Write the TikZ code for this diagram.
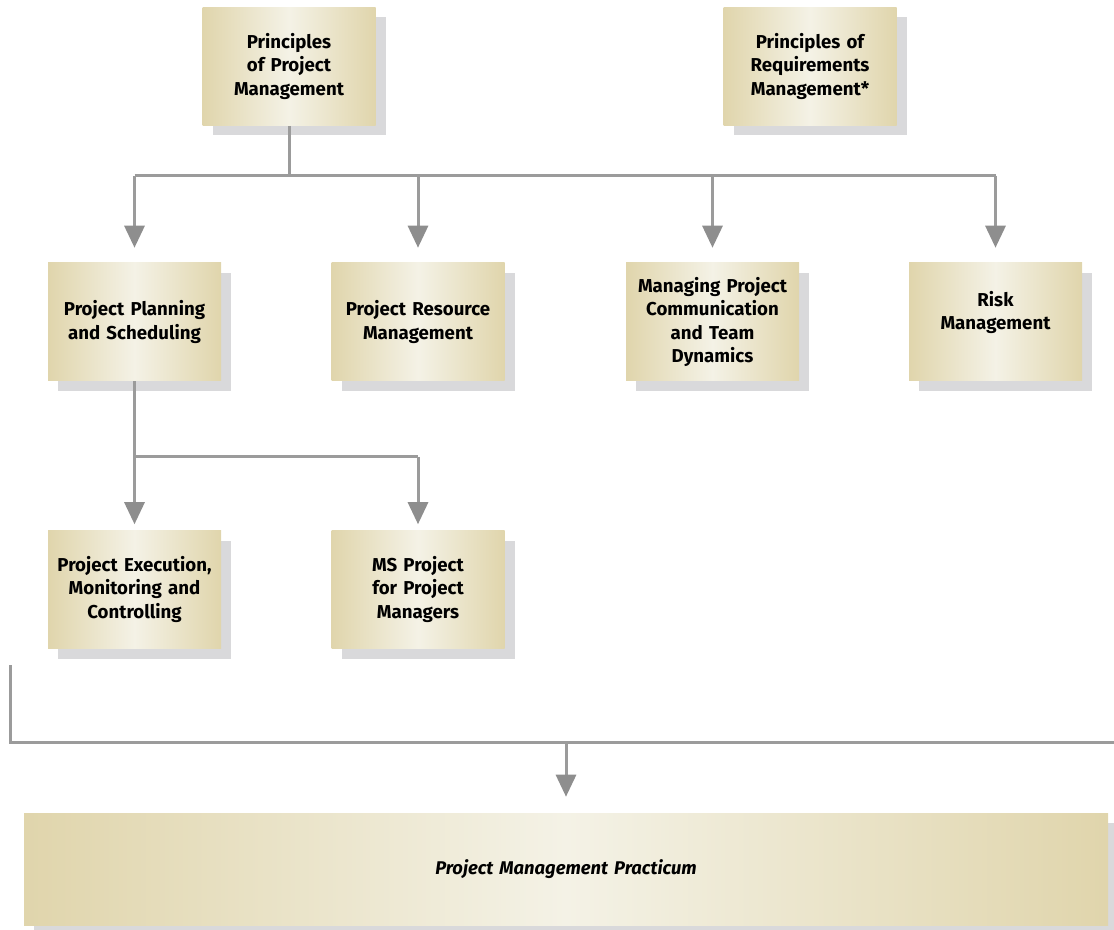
\documentclass[tikz,border=0pt]{standalone}
\usepackage{fontspec}
\setmainfont{Fira Sans}
\usetikzlibrary{arrows.meta,shadows,positioning}

\definecolor{boxtan}{HTML}{E0D5AC}
\definecolor{boxlight}{HTML}{F4F2E6}
\definecolor{shadowgray}{HTML}{D9D9DB}
\definecolor{linegray}{HTML}{9B9B9B}
\definecolor{tipgray}{HTML}{8E8E8E}

\tikzset{
  course/.style={left color=boxtan, right color=boxtan, middle color=boxlight,
    minimum width=129.75pt, minimum height=88.5pt, text width=129pt, align=center,
    inner sep=0pt, font=\bfseries\fontsize{14}{17.5}\selectfont,
    general shadow={fill=shadowgray, shadow xshift=7.5pt, shadow yshift=-7.5pt}},
  link/.style={draw=linegray, line width=2.25pt},
  flow/.style={link, -{Triangle[width=15pt,length=16.5pt,color=tipgray]}}
}

\begin{document}
\begin{tikzpicture}[x=0.75pt,y=-0.75pt]
  \useasboundingbox (0,0) rectangle (1114,930);

  % first courses
  \node[course] (pm)  at (289,66.5) {Principles\\of Project\\Management};
  \node[course] (req) at (810,66.5) {Principles of\\Requirements\\Management*};

  % second row
  \node[course] (plan) at (134.5,322) {Project Planning\\and Scheduling};
  \node[course] (res)  at (418,322)   {Project Resource\\Management};
  \node[course] (comm) at (712.5,322) {Managing Project\\Communication\\and Team\\Dynamics};
  \node[course] (risk) at (995.5,322) {Risk\\Management\\\mbox{}};

  % third row
  \node[course] (exec) at (134.5,589.5) {Project Execution,\\Monitoring and\\Controlling};
  \node[course] (msp)  at (418,589.5)   {MS Project\\for Project\\Managers};

  % capstone
  \node[course, minimum width=813pt, minimum height=84pt, text width=800pt,
        font=\bfseries\itshape\fontsize{13.8}{16}\selectfont] (prac) at (566,869)
        {Project Management Practicum};

  \coordinate (hubA) at (289,176);
  \coordinate (hubB) at (134.5,457);
  \coordinate (bend) at (10,665);
  \coordinate (hubC) at (10,742);
  \coordinate (edge) at (1114,742);

  \draw[link] (pm.south) -- (hubA);
  \draw[link] (plan.north |- hubA) -- (risk.north |- hubA);
  \foreach \n in {plan,res,comm,risk}
    \draw[flow] (\n.north |- hubA) -- ([yshift=11.25pt]\n.north);

  \draw[link] (plan.south) -- (hubB) -- (msp.north |- hubB);
  \foreach \n in {exec,msp}
    \draw[flow] (\n.north |- hubB) -- ([yshift=4.5pt]\n.north);

  \draw[link] (bend) -- (hubC) -- (edge);
  \draw[flow] (prac.north |- hubC) -- ([yshift=12pt]prac.north);
\end{tikzpicture}
\end{document}
